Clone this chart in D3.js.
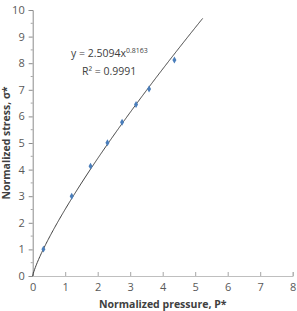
<!DOCTYPE html>
<html>
<head>
<meta charset="UTF-8">
<style>
    body { margin: 0; background: #fff; }
    svg text { font-family: "Open Sans", "Liberation Sans", sans-serif; }
</style>
</head>
<body>
<svg></svg>
<script src="https://d3js.org/d3.v7.min.js"></script>
<script>
    // data
    let pressure = [0.33, 1.2, 1.78, 2.3, 2.75, 3.18, 3.58, 4.36]
    let stress = [1.01, 3.0, 4.13, 5.01, 5.78, 6.45, 7.03, 8.12]
    let xTicks = [0, 1, 2, 3, 4, 5, 6, 7, 8]
    let yTicks = [0, 1, 2, 3, 4, 5, 6, 7, 8, 9, 10]
    let fitA = 2.5094, fitB = 0.8163, fitEnd = 5.23
    let eqText = "y = 2.5094x", eqExp = "0.8163", r2Text = "R² = 0.9991"

    let width = 297, height = 311
    let padL = 32.7, padR = 292.7, padT = 10, padB = 276

    let svg = d3.select("svg")
        .attr("width", width)
        .attr("height", height)

    let x = d3.scaleLinear().domain([0, 8]).range([padL, padR])
    let y = d3.scaleLinear().domain([0, 10]).range([padB, padT])

    // y axis with half-step minor ticks
    let yMinor = d3.range(0.5, 10, 1)
    svg.append("g")
        .selectAll("line")
        .data(yMinor)
        .enter().append("line")
        .attr("x1", padL - 2).attr("x2", padL)
        .attr("y1", d => y(d)).attr("y2", d => y(d))
        .attr("stroke", "#a6a6a6")

    let yAxis = svg.append("g")
        .attr("transform", "translate(" + padL + ",0)")
        .call(d3.axisLeft(y).tickValues(yTicks).tickSize(4).tickPadding(4))
    yAxis.select(".domain").attr("stroke", "#8c8c8c")
    yAxis.selectAll(".tick line").attr("stroke", "#8c8c8c")
    yAxis.selectAll("text").attr("fill", "#595959").style("font-size", "11px")

    let xAxis = svg.append("g")
        .attr("transform", "translate(0," + padB + ")")
        .call(d3.axisBottom(x).tickValues(xTicks).tickSize(-4).tickPadding(7))
    xAxis.select(".domain").attr("stroke", "#bfbfbf")
    xAxis.selectAll(".tick line").attr("stroke", "#a6a6a6")
    xAxis.selectAll("text").attr("fill", "#595959").style("font-size", "11px")

    // fitted power curve
    let curveX = d3.range(0, fitEnd, 0.02).concat([fitEnd])
    let line = d3.line()
        .x(d => x(d))
        .y(d => y(fitA * Math.pow(d, fitB)))
    svg.append("path")
        .datum(curveX)
        .attr("d", line)
        .attr("fill", "none")
        .attr("stroke", "#404040")
        .attr("stroke-width", 1)

    // points
    svg.append("g")
        .selectAll("path")
        .data(pressure)
        .enter().append("path")
        .attr("d", d3.symbol().type(d3.symbolDiamond).size(14))
        .attr("transform", (d, i) => "translate(" + x(d) + "," + y(stress[i]) + ")")
        .attr("fill", "#4a7ebb")

    // equation
    let eq = svg.append("text")
        .attr("x", 71).attr("y", 57)
        .attr("fill", "#404040")
        .style("font-size", "10.5px")
    eq.append("tspan").text(eqText)
    eq.append("tspan").attr("dy", -4).style("font-size", "7px").text(eqExp)

    svg.append("text")
        .attr("x", 82).attr("y", 75)
        .attr("fill", "#404040")
        .style("font-size", "10.5px")
        .text(r2Text)

    // axis titles
    svg.append("text")
        .attr("x", (padL + padR) / 2).attr("y", 308)
        .attr("text-anchor", "middle")
        .attr("fill", "#404040")
        .style("font-size", "10.5px")
        .style("font-weight", "bold")
        .text("Normalized pressure, P*")

    svg.append("text")
        .attr("transform", "translate(10," + (padT + padB) / 2 + ") rotate(-90)")
        .attr("text-anchor", "middle")
        .attr("fill", "#404040")
        .style("font-size", "10.5px")
        .style("font-weight", "bold")
        .text("Normalized stress, σ*")
</script>
</body>
</html>
